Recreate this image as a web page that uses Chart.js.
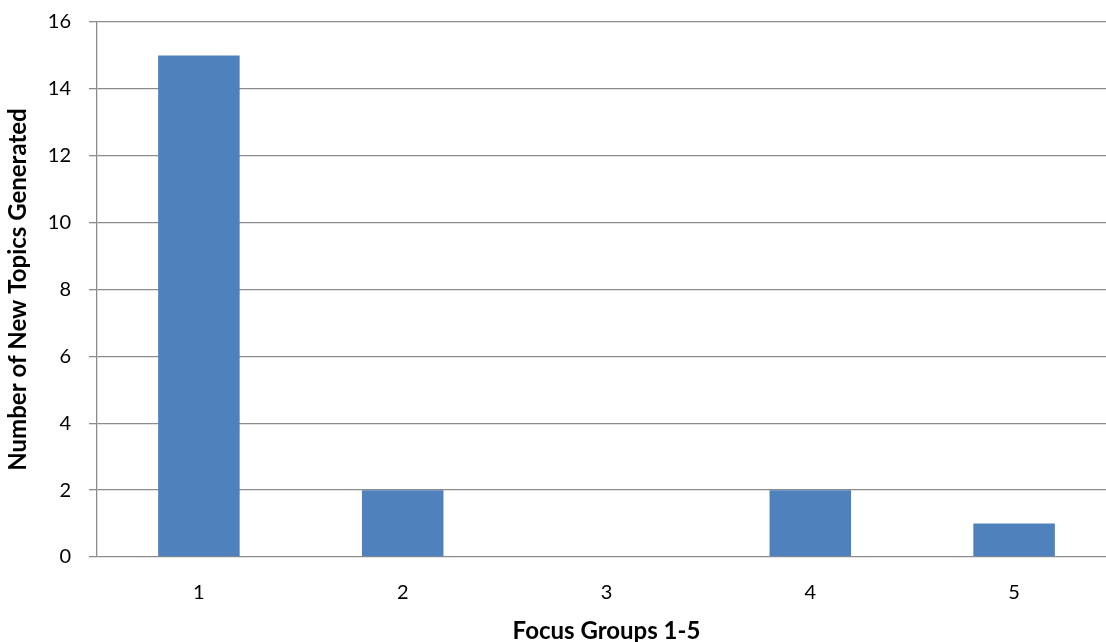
<!DOCTYPE html>
<html>
<head>
<meta charset="utf-8">
<script src="https://cdn.jsdelivr.net/npm/chart.js@4/dist/chart.umd.min.js"></script>
<style>
  html, body { margin: 0; padding: 0; background: #fff; overflow: hidden; }
  #wrap { width: 1116px; height: 642px; }
</style>
</head>
<body>
<div id="wrap"><canvas id="chart" width="1116" height="642"></canvas></div>
<script>
const groups = ["1", "2", "3", "4", "5"];
const newTopics = [15, 2, 0, 2, 1];
const yTickValues = [0, 2, 4, 6, 8, 10, 12, 14, 16];

const color = "#4f81bd";
const gridColor = "#8c8c8c";
const font = "Lato, 'Open Sans', sans-serif";

const ctx = document.getElementById("chart").getContext("2d");

new Chart(ctx, {
  type: "bar",
  data: {
    labels: groups,
    datasets: [
      {
        label: "",
        data: newTopics,
        backgroundColor: color,
        borderWidth: 0,
        barPercentage: 0.4,
        categoryPercentage: 1,
      },
    ],
  },
  options: {
    responsive: false,
    animation: false,
    layout: { padding: { top: 0, right: 0, left: 0, bottom: 0 } },
    plugins: {
      legend: { display: false },
      tooltip: { enabled: false },
    },
    scales: {
      x: {
        grid: { display: false },
        border: { display: false },
        ticks: {
          color: "#000",
          font: { family: font, size: 20 },
          padding: 16,
        },
        title: {
          display: true,
          text: "Focus Groups 1-5",
          color: "#000",
          font: { family: font, size: 24, weight: "bold", lineHeight: 0.9 },
          padding: { top: 4, bottom: 0 },
        },
        afterFit: (axis) => {
          axis.height = 85;
        },
      },
      y: {
        min: 0,
        max: 16,
        afterBuildTicks: (axis) => {
          axis.ticks = yTickValues.map((v) => ({ value: v }));
        },
        grid: {
          color: gridColor,
          lineWidth: 1.3,
          tickLength: 8,
          drawTicks: true,
        },
        border: { display: true, color: gridColor, width: 1.3 },
        ticks: {
          color: "#000",
          font: { family: font, size: 20, lineHeight: 0.4 },
          padding: 18,
        },
        title: {
          display: true,
          text: "Number of New Topics Generated",
          color: "#000",
          font: { family: font, size: 24, weight: "bold" },
          padding: { top: 4, bottom: 10 },
        },
        afterFit: (axis) => {
          axis.width = 97;
        },
      },
    },
  },
});
</script>
</body>
</html>
